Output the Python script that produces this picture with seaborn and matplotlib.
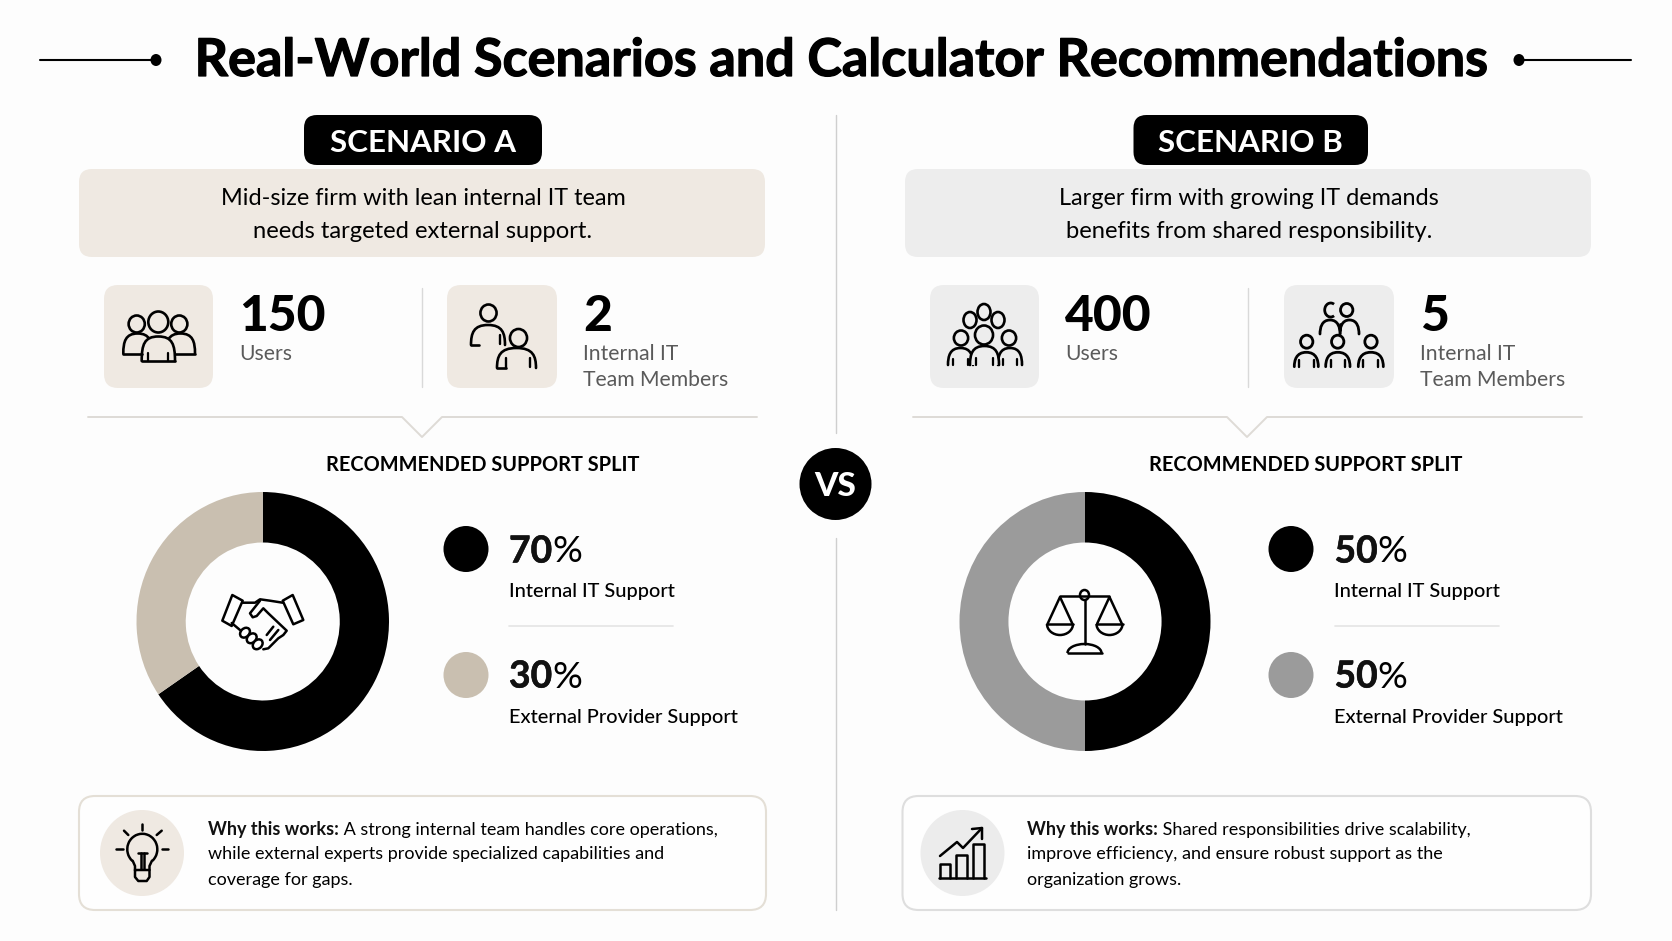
import matplotlib
matplotlib.use("Agg")
import matplotlib.pyplot as plt
import matplotlib.patheffects as pe
import seaborn as sns
from matplotlib.patches import Circle, Ellipse, FancyBboxPatch, PathPatch, Polygon, Arc
from matplotlib.path import Path

# chart values
scenario_names = ["SCENARIO A", "SCENARIO B"]
internal_share = [70, 50]
external_share = [30, 50]
# the ring in the picture does not quite follow its label: A's black arc stops near 65.5%
internal_arc = [65.5, 50]
external_arc = [34.5, 50]
user_counts = [150, 400]
it_team_counts = [2, 5]
descriptions = [
    ["Mid-size firm with lean internal IT team", "needs targeted external support."],
    ["Larger firm with growing IT demands", "benefits from shared responsibility."],
]
why_texts = [
    ["A strong internal team handles core operations,",
     "while external experts provide specialized capabilities and",
     "coverage for gaps."],
    ["Shared responsibilities drive scalability,",
     "improve efficiency, and ensure robust support as the",
     "organization grows."],
]
split_labels = ["Internal IT Support", "External Provider Support"]

BG = "#fdfdfd"
INK = "#000000"
TINTS = ["#efe9e2", "#ededed"]
SLICE2 = ["#c9bfb0", "#9b9b9b"]
WHY_EDGE = ["#e4dfd6", "#dedede"]

sns.set_theme(style="white")
plt.rcParams["font.family"] = ["Lato", "DejaVu Sans"]

fig = plt.figure(figsize=(16.72, 9.41), dpi=100, facecolor=BG)
ax = fig.add_axes([0, 0, 1, 1])
ax.set_xlim(0, 1672)
ax.set_ylim(941, 0)
ax.axis("off")


def txt(x, y, s, size, weight="normal", color="#111111", ha="left", stroke=0):
    t = ax.text(x, y, s, fontsize=size, fontweight=weight, color=color, ha=ha, va="baseline")
    if stroke:
        t.set_path_effects([pe.withStroke(linewidth=stroke, foreground=color)])
    return t


def line(xs, ys, color=INK, lw=1.5):
    ax.plot(xs, ys, color=color, lw=lw, solid_capstyle="round", solid_joinstyle="round")


def box(x0, y0, x1, y1, r, fc, ec="none", lw=0):
    ax.add_patch(FancyBboxPatch((x0 + r, y0 + r), x1 - x0 - 2 * r, y1 - y0 - 2 * r,
                                boxstyle=f"round,pad={r},rounding_size={r}", fc=fc, ec=ec, lw=lw))


def person(cx, head_y, r, left, right, top, bottom, fc, lw=1.9, tick=7):
    # head plus an open arched body, filled so it can hide whoever stands behind
    ax.add_patch(Ellipse((cx, head_y), 2 * r * 0.95, 2 * r, fc=fc, ec=INK, lw=lw))
    w = right - left
    mid = (left + right) / 2
    verts = [(left, bottom), (left, top + 8), (left + w * 0.08, top), (mid, top),
             (right - w * 0.08, top), (right, top + 8), (right, bottom)]
    codes = [Path.MOVETO, Path.CURVE4, Path.CURVE4, Path.CURVE4, Path.CURVE4, Path.CURVE4, Path.CURVE4]
    ax.add_patch(PathPatch(Path(verts, codes), fc=fc, ec=INK, lw=lw, capstyle="round"))
    if tick:
        line([left + w * 0.2] * 2, [bottom - tick, bottom], lw=lw * 0.85)
        line([right - w * 0.2] * 2, [bottom - tick, bottom], lw=lw * 0.85)


def icon_group_small(fc):
    person(136.7, 324, 8.5, 123.3, 152, 333.5, 353.5, fc, tick=0)
    person(179.3, 324, 8.5, 166, 195, 333.5, 353.5, fc, tick=0)
    line([123.3, 142], [353.5, 353.5], lw=1.9)
    line([175, 195], [353.5, 353.5], lw=1.9)
    person(158.3, 322, 10.5, 141.7, 175, 336.5, 361, fc, tick=8)
    line([141.7, 175], [361, 361], lw=1.9)


def icon_pair(fc):
    person(488.5, 313, 8.5, 471, 505, 325, 345, fc, tick=0)
    line([471, 479], [345, 345], lw=1.9)
    line([500, 500], [335, 344], lw=1.7)
    person(518.5, 338, 9, 497, 536, 348, 368, fc, tick=0)
    line([497, 506], [368, 368], lw=1.9)
    line([506, 506], [358, 368], lw=1.7)
    line([530, 530], [358, 367], lw=1.7)


def icon_group_large(fc):
    for cx, hy in [(970, 320), (998, 320), (984, 312)]:
        ax.add_patch(Ellipse((cx, hy), 13, 16, fc=fc, ec=INK, lw=1.9))
    person(961, 338, 7.5, 948, 973, 348, 365, fc, tick=6)
    person(1009, 338, 7.5, 998, 1022, 348, 365, fc, tick=6)
    person(984, 335, 9.5, 970, 999, 346, 365, fc, tick=7)


def icon_team(fc):
    ax.add_patch(Arc((1330.7, 310), 12, 14, theta1=60, theta2=300, ec=INK, lw=2))
    person(1346.7, 310, 6.5, 1340, 1359, 320, 334, fc, lw=2, tick=0)
    person(1330, 330, 0.01, 1320, 1340, 320, 334, fc, lw=2, tick=0)
    line([1339.5, 1339.5], [324, 330], lw=2)
    for cx, l, r in [(1306.7, 1294.3, 1318.3), (1337.7, 1325.7, 1350), (1371, 1358.3, 1383.3)]:
        person(cx, 341.7, 6.5, l, r, 352.3, 366.7, fc, lw=2, tick=6.5)


def icon_handshake():
    lw = 1.8
    for cuff in [[(232.3, 595), (242.7, 600.7), (231.7, 626), (222.3, 620.7)],
                 [(292.7, 595), (282.7, 600.7), (293.3, 624.3), (303.3, 620)]]:
        ax.add_patch(Polygon(cuff, closed=True, fc="white", ec=INK, lw=lw, joinstyle="round"))
    line([242.7, 255, 260, 270, 282.7], [602.7, 602.7, 599.3, 600.7, 602.7], lw=lw)
    line([260, 250, 252.7, 256.7, 263.3, 268.3, 286.7, 283.3, 278.3, 273.3, 268.3, 263.3],
         [600.7, 613.3, 617.3, 616, 608.3, 613.3, 630.7, 635, 638.3, 643.3, 648.3, 649.3], lw=lw)
    line([231.7, 240], [623, 630], lw=lw)
    line([273.3, 266.7], [626.7, 635], lw=lw)
    line([278.3, 270], [630, 640], lw=lw)
    for cx, cy in [(245, 632.7), (251.7, 638.3), (257.7, 644.3)]:
        ax.add_patch(Ellipse((cx, cy), 11, 8.5, angle=-45, fc="white", ec=INK, lw=lw))


def icon_scales():
    lw = 1.8
    cx = 1084.5
    line([cx, cx], [600, 644], lw=lw)
    line([1060, 1109], [596, 596], lw=lw)
    ax.add_patch(Ellipse((cx, 595), 9, 10, fc="white", ec=INK, lw=lw))
    for px in [1060, 1109.5]:
        line([px - 12.5, px, px + 12.5], [624, 597, 624], lw=lw)
        line([px - 13, px + 13], [624, 624], lw=lw)
        ax.add_patch(Arc((px, 624), 26, 22, theta1=0, theta2=180, ec=INK, lw=lw))
    ax.add_patch(Arc((cx, 653), 34, 18, theta1=180, theta2=360, ec=INK, lw=lw))
    line([1068, 1102], [653, 653], lw=lw)


def icon_bulb():
    lw = 1.8
    ax.add_patch(Arc((142.3, 849.3), 30, 31, theta1=130, theta2=50, ec=INK, lw=lw))
    line([132.7, 135, 135], [860.8, 866, 870], lw=lw)
    line([151.9, 149.5, 149.5], [860.8, 866, 870], lw=lw)
    line([135, 149.5, 149.5, 146.7, 138.3, 135, 135], [870, 870, 877, 881, 881, 877, 870], lw=lw)
    line([138.3, 146.7], [852.7, 852.7], lw=lw)
    line([140.7, 140.7], [852.7, 869], lw=lw)
    line([144.3, 144.3], [852.7, 869], lw=lw)
    line([142.3, 142.3], [824, 830], lw=lw)
    line([116, 123.3], [849.3, 849.3], lw=lw)
    line([161.7, 168.3], [849.3, 849.3], lw=lw)
    line([124, 128.3], [830.7, 835], lw=lw)
    line([161.7, 156.7], [830.7, 835], lw=lw)


def icon_growth():
    lw = 1.8
    line([939, 986], [878, 878], lw=lw)
    for l, r, top in [(940, 950, 864), (956, 967, 855), (973, 984, 844)]:
        line([l, l, r, r], [878, top, top, 878], lw=lw)
    line([940, 957, 963, 982], [856, 842, 848, 828], lw=lw)
    line([972, 982, 982], [829, 828, 839], lw=lw)


def mixed(x, y, bold, rest, size, stroke=0):
    # bold run then regular run on one baseline
    r = fig.canvas.get_renderer()
    t = txt(x, y, bold, size, weight="bold", stroke=stroke)
    end = t.get_window_extent(r).x1
    txt(end, y, rest, size, color=INK)


def panel(i, pill, desc, cards, sep, rec_x, donut, key_x, why, stat_x, notch):
    fc = TINTS[i]
    # heading pill and description
    box(pill[0], 115, pill[1], 165, 13, INK)
    txt((pill[0] + pill[1]) / 2, 151.5, scenario_names[i], 22.6, weight="bold", color="white", ha="center")
    box(desc[0], 169, desc[1], 257, 13, fc)
    mid = (desc[0] + desc[1]) / 2 + 1
    txt(mid, 205, descriptions[i][0], 16.9, ha="center", color=INK)
    txt(mid, 237.5, descriptions[i][1], 17.1, ha="center", color=INK)

    # stat cards
    box(cards[0], 285, cards[0] + 109, 388, 14, fc)
    box(cards[1], 285, cards[1] + 110, 388, 14, fc)
    line([stat_x[1]] * 2, [288, 387], color="#d9d9d9", lw=1)
    txt(stat_x[0], 331, str(user_counts[i]), 35.8, weight="black", color=INK)
    txt(stat_x[0], 360, "Users", 15.2, color="#5a5a5a")
    txt(stat_x[2], 331, str(it_team_counts[i]), 35.8, weight="black", color=INK)
    txt(stat_x[2], 360, "Internal IT", 15.2, color="#5a5a5a")
    txt(stat_x[2], 386, "Team Members", 15.2, color="#5a5a5a")

    # separator with its small notch
    line([sep[0], notch - 20, notch, notch + 20, sep[1]], [417, 417, 437, 417, 417], color="#dedbd6", lw=1.4)
    txt(rec_x, 471, "RECOMMENDED SUPPORT SPLIT", 14.4, weight="bold", ha="center", color=INK)

    # donut, pixel box from the picture; the pie itself comes from the arcs
    x0, x1, y0, y1 = donut
    dax = fig.add_axes([x0 / 1672, 1 - y1 / 941, (x1 - x0) / 1672, (y1 - y0) / 941])
    dax.pie([internal_arc[i], external_arc[i]], colors=[INK, SLICE2[i]], startangle=90,
            counterclock=False, radius=1, wedgeprops={"width": 0.39, "linewidth": 0})
    dax.set_aspect("auto")
    dax.set_xlim(-1, 1)
    dax.set_ylim(-1, 1)
    dax.patch.set_alpha(0)

    # legend style block
    ax.add_patch(Ellipse((key_x[0], 549), 45, 46, fc=INK, ec="none"))
    ax.add_patch(Ellipse((key_x[0], 675), 45, 46, fc=SLICE2[i], ec="none"))
    mixed(key_x[1], 562.5, str(internal_share[i]), "%", 26.8, stroke=0.4)
    txt(key_x[1], 597, split_labels[0], 14.4, weight=500, color=INK)
    line([key_x[1], key_x[1] + 164], [625.5, 625.5], color="#e4e4e4", lw=1.2)
    mixed(key_x[1], 687.5, str(external_share[i]), "%", 26.8, stroke=0.4)
    txt(key_x[1], 723, split_labels[1], 14.4, weight=500, color=INK)

    # why this works card
    box(why[0], 796, why[1], 910, 16, "#fefefe", ec=WHY_EDGE[i], lw=1.5)
    ax.add_patch(Ellipse((why[2], 853), 84, 86, fc=fc if i == 0 else "#ececec", ec="none"))
    mixed(why[3], 834.5, "Why this works:", " " + why_texts[i][0], 13)
    txt(why[3], 859.5, why_texts[i][1], 13, color=INK)
    txt(why[3], 884.5, why_texts[i][2], 13, color=INK)


# title row
txt(841, 76, "Real-World Scenarios and Calculator Recommendations", 37.5, weight="bold",
    color=INK, ha="center", stroke=0.9)
line([40, 155], [60, 60], lw=1.5)
line([1519, 1631], [60, 60], lw=1.5)
ax.add_patch(Ellipse((156, 60), 11, 12, fc=INK, ec="none"))
ax.add_patch(Ellipse((1519, 60), 11, 12, fc=INK, ec="none"))

# centre divider and badge
line([835.5, 835.5], [115, 433], color="#cfcfcf", lw=1)
line([835.5, 835.5], [538, 910], color="#cfcfcf", lw=1)
ax.add_patch(Circle((835.5, 484), 36, fc=INK, ec="none"))
txt(835.5, 496, "VS", 24, weight="black", color="white", ha="center")

panel(0, (304, 542), (79, 765), (104, 447), (88, 757), 482.5, (136.5, 389, 492, 751),
      (466, 509), (79, 766, 142, 208), (239.5, 421.5, 583), 422)
panel(1, (1133.5, 1368), (905, 1591), (930, 1284), (913, 1582), 1306, (959.5, 1210.5, 492, 751),
      (1291, 1334.5), (902.5, 1591, 962.5, 1027), (1065, 1247.5, 1420), 1247)

icon_group_small(TINTS[0])
icon_pair(TINTS[0])
icon_group_large(TINTS[1])
icon_team(TINTS[1])
icon_bulb()
icon_growth()

# centre icons go above the donuts
ax.set_zorder(5)
ax.patch.set_alpha(0)
icon_handshake()
icon_scales()

fig.savefig("out.png", dpi=100, facecolor=BG)
